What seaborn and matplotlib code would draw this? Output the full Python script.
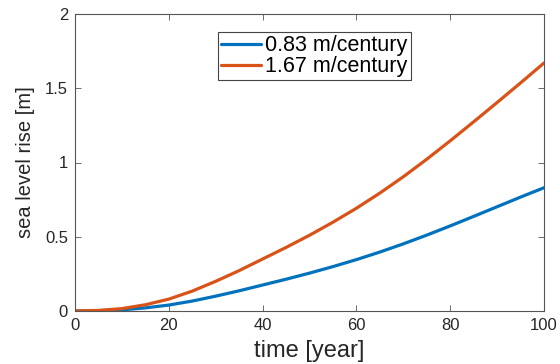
import numpy as np
import pandas as pd
import matplotlib
matplotlib.use("Agg")
import matplotlib.pyplot as plt
import seaborn as sns

# ---- data ----
years = [0, 5, 10, 15, 20, 25, 30, 35, 40, 45, 50,
         55, 60, 65, 70, 75, 80, 85, 90, 95, 100]
rise_083 = [0.0, 0.002, 0.008, 0.021, 0.040, 0.067, 0.100, 0.136, 0.175, 0.214, 0.255,
            0.299, 0.346, 0.397, 0.452, 0.511, 0.573, 0.637, 0.702, 0.767, 0.830]
rise_167 = [0.0, 0.004, 0.016, 0.042, 0.080, 0.134, 0.200, 0.272, 0.350, 0.428, 0.510,
            0.598, 0.692, 0.794, 0.904, 1.022, 1.146, 1.274, 1.404, 1.536, 1.670]
series_labels = ["0.83 m/century", "1.67 m/century"]
x_ticks = [0, 20, 40, 60, 80, 100]
y_ticks = [0, 0.5, 1, 1.5, 2]
y_tick_labels = ["0", "0.5", "1", "1.5", "2"]

df = pd.DataFrame({
    "time": years * 2,
    "rise": rise_083 + rise_167,
    "scenario": [series_labels[0]] * len(years) + [series_labels[1]] * len(years),
})

sns.set_theme(style="white")
plt.rcParams["font.family"] = ["Liberation Sans", "DejaVu Sans"]

fig = plt.figure(figsize=(5.6, 3.64), dpi=100)
ax = fig.add_axes([75 / 560, 1 - 311 / 364, (544 - 75) / 560, (311 - 14) / 364])

palette = {series_labels[0]: "#0072BD", series_labels[1]: "#D95319"}
sns.lineplot(data=df, x="time", y="rise", hue="scenario", palette=palette,
             linewidth=2.3, ax=ax, legend=True)
for ln in ax.get_lines():
    ln.set_solid_joinstyle("round")
    ln.set_solid_capstyle("round")

ax.set_xlim(0, 100)
ax.set_ylim(0, 2)
ax.set_xticks(x_ticks)
ax.set_yticks(y_ticks)
ax.set_yticklabels(y_tick_labels)

axis_col = "#262626"
for s in ax.spines.values():
    s.set_visible(True)
    s.set_color("#555555")
    s.set_linewidth(0.8)
ax.tick_params(direction="in", length=4, width=0.6, colors="#555555",
               top=True, right=True, bottom=True, left=True,
               labelsize=12, labelcolor=axis_col, pad=5)

ax.set_xlabel("time [year]", fontsize=17, color=axis_col, labelpad=5)
ax.set_ylabel("sea level rise [m]", fontsize=14.5, color=axis_col, labelpad=7)

handles, labels = ax.get_legend_handles_labels()
for h in handles:
    h.set_linewidth(2.3)
leg = ax.legend(handles, labels, loc="upper left",
                bbox_to_anchor=((218 - 75) / 469, 1 - (32 - 14) / 297),
                borderaxespad=0, fontsize=15.5, frameon=True, fancybox=False,
                edgecolor="#444444", framealpha=1, labelspacing=0.0,
                borderpad=0.15, handlelength=1.85, handletextpad=0.2)
leg.get_frame().set_linewidth(0.8)
for t in leg.get_texts():
    t.set_color("#000000")

fig.savefig("out.png", dpi=100)
